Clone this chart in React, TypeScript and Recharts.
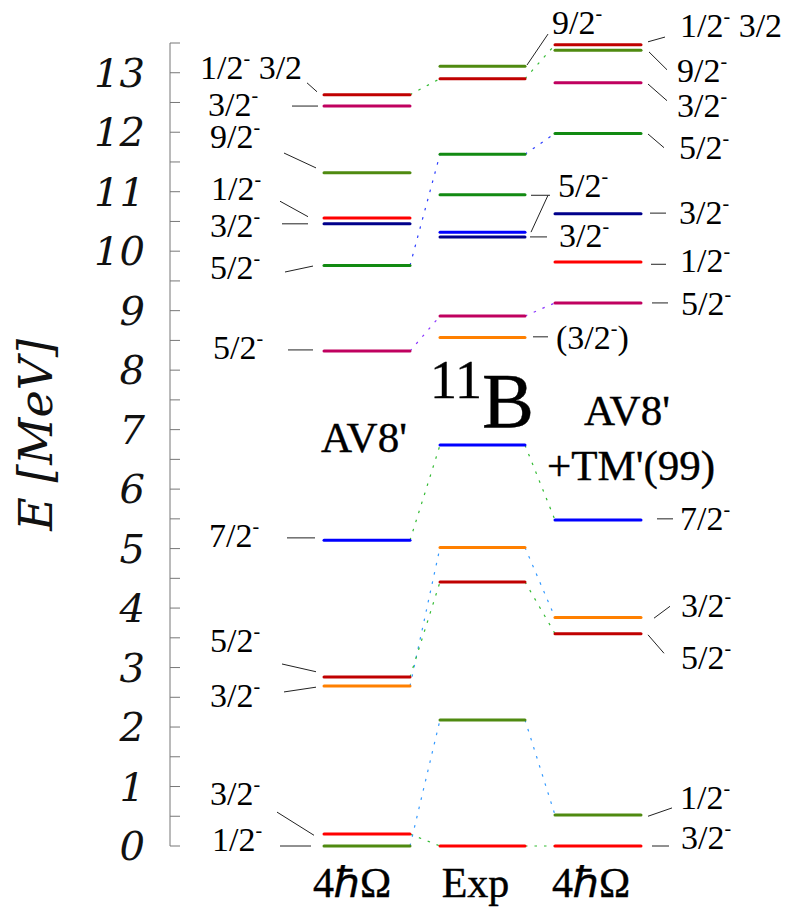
import React from 'react';
import { ComposedChart, XAxis, YAxis, ReferenceLine, ReferenceDot } from 'recharts';

// ---------------- data (energies in MeV) ----------------
const yTicks = [0, 1, 2, 3, 4, 5, 6, 7, 8, 9, 10, 11, 12, 13];
const minorTicks = [0, 0.5, 1, 1.5, 2, 2.5, 3, 3.5, 4, 4.5, 5, 5.5, 6, 6.5, 7, 7.5, 8, 8.5, 9, 9.5, 10, 10.5, 11, 11.5, 12, 12.5, 13, 13.5];

const av8Levels = [0.0, 0.2, 2.69, 2.84, 5.14, 8.32, 9.76, 10.46, 10.56, 11.32, 12.44, 12.63];
const av8Spins = ['1/2-', '3/2-', '3/2-', '5/2-', '7/2-', '5/2-', '5/2-', '3/2-', '1/2-', '9/2-', '3/2-', '1/2- 3/2'];

const expLevels = [0.0, 2.12, 4.44, 5.02, 6.74, 8.55, 8.91, 10.24, 10.32, 10.95, 11.63, 12.9, 13.11];
const expSpins = ['9/2-', '5/2-', '3/2-', '(3/2-)'];

const tmLevels = [0.0, 0.52, 3.57, 3.84, 5.48, 9.13, 9.82, 10.63, 11.98, 12.83, 13.38, 13.47];
const tmSpins = ['3/2-', '1/2-', '5/2-', '3/2-', '7/2-', '5/2-', '1/2-', '3/2-', '5/2-', '3/2-', '9/2-', '1/2- 3/2'];

// connections: [left level E, right level E]
const av8ToExp = [
  [12.63, 12.9], [9.76, 11.63], [8.32, 8.91], [5.14, 6.74],
  [2.69, 5.02], [2.84, 4.44], [0.0, 2.12], [0.2, 0.0],
];
const expToTm = [
  [12.9, 13.47], [11.63, 11.98], [8.91, 9.13], [6.74, 5.48],
  [5.02, 3.84], [4.44, 3.57], [2.12, 0.52], [0.0, 0.0],
];

const columnNames = ['4\u210F\u03A9', 'Exp', '4\u210F\u03A9'];
const nucleus = { mass: '11', symbol: 'B' };
const modelNames = ["AV8'", "AV8'", "+TM'(99)"];
const axisTitle = 'E [MeV]';

// ---------------- styles ----------------
const RED = '#ff0000', DRED = '#c00000', MAG = '#c0005f', OLIVE = '#4f8a10', GREEN = '#128a12',
  NAVY = '#00008b', BLUE = '#0000ff', ORANGE = '#ff8000';
const av8Colors = [OLIVE, RED, ORANGE, DRED, BLUE, MAG, GREEN, NAVY, RED, OLIVE, MAG, DRED];
const expColors = [RED, OLIVE, DRED, ORANGE, BLUE, ORANGE, MAG, NAVY, BLUE, GREEN, GREEN, DRED, OLIVE];
const tmColors = [RED, OLIVE, DRED, ORANGE, BLUE, MAG, RED, NAVY, GREEN, MAG, OLIVE, DRED];

const DG = '#33bb33', DB = '#2a3cff', DP = '#8a33ff', DLB = '#3399ff';
const av8ToExpColors = [DG, DB, DP, DG, DLB, DG, DLB, DG];
const expToTmColors = [DG, DB, DP, DG, DLB, DG, DLB, DG];

// ---------------- layout ----------------
const W = 791, H = 915;
const PLOT_LEFT = 170, PLOT_RIGHT = 790, PLOT_TOP = 43, PLOT_BOTTOM = 846;
const YAXIS_W = 100;
const COL_AV8: [number, number] = [324, 410];
const COL_EXP: [number, number] = [440, 525];
const COL_TM: [number, number] = [555, 641];

// label layout: text x (start), text centre E, leader [x1,e1,x2,e2]
const av8LabelPos = [
  { x: 212, e: 0.12, l: [280, 0.0, 311, 0.0] },
  { x: 210, e: 0.89, l: [277, 0.57, 314, 0.18] },
  { x: 210, e: 2.54, l: [284, 2.59, 316, 2.67] },
  { x: 210, e: 3.46, l: [282, 3.06, 316, 2.93] },
  { x: 209, e: 5.23, l: [287, 5.18, 315, 5.18] },
  { x: 213, e: 8.39, l: [288, 8.34, 313, 8.34] },
  { x: 210, e: 9.73, l: [285, 9.65, 313, 9.75] },
  { x: 210, e: 10.44, l: [282, 10.46, 308, 10.46] },
  { x: 211, e: 11.06, l: [280, 10.84, 308, 10.58] },
  { x: 210, e: 11.94, l: [284, 11.65, 316, 11.4] },
  { x: 208, e: 12.48, l: [292, 12.44, 318, 12.44] },
  { x: 200, e: 13.1, l: [307, 12.83, 317, 12.68] },
];
const expLabelPos = [
  { x: 552, e: 13.85, l: [527, 13.13, 548, 13.65] },
  { x: 558, e: 11.11, l: [531, 10.94, 550, 10.94], l2: [548, 10.94, 531, 10.32] },
  { x: 559, e: 10.27, l: [530, 10.24, 547, 10.24] },
  { x: 556, e: 8.56, l: [533, 8.56, 548, 8.56] },
];
const tmLabelPos = [
  { x: 681, e: 0.15, l: [652, 0.0, 669, 0.0] },
  { x: 680, e: 0.82, l: [648, 0.5, 672, 0.64] },
  { x: 681, e: 3.18, l: [648, 3.55, 664, 3.24] },
  { x: 681, e: 4.05, l: [654, 3.83, 670, 4.03] },
  { x: 680, e: 5.51, l: [657, 5.5, 673, 5.5] },
  { x: 681, e: 9.13, l: [652, 9.13, 668, 9.13] },
  { x: 680, e: 9.85, l: [651, 9.78, 666, 9.78] },
  { x: 679, e: 10.66, l: [650, 10.64, 666, 10.64] },
  { x: 679, e: 11.75, l: [648, 11.97, 664, 11.74] },
  { x: 677, e: 12.46, l: [648, 12.81, 667, 12.53] },
  { x: 677, e: 13.05, l: [649, 13.35, 667, 13.05] },
  { x: 680, e: 13.8, l: [648, 13.52, 665, 13.6] },
];

const SERIF = '"Liberation Serif", "Times New Roman", Times, serif';
const LBL = 34;

function SpinText({ cx, cy, s }: any) {
  const parts = String(s).split('-');
  const kids: any[] = [];
  parts.forEach((p, i) => {
    if (i > 0) {
      kids.push(<tspan key={'m' + i} fontSize={20} dy={-14}>-</tspan>);
      kids.push(<tspan key={'p' + i} fontSize={LBL} dy={14}>{p}</tspan>);
    } else {
      kids.push(<tspan key={'p' + i}>{p}</tspan>);
    }
  });
  return (
    <text x={cx} y={cy} dy="0.35em" fontFamily={SERIF} fontSize={LBL} fill="#000" textAnchor="start">
      {kids}
    </text>
  );
}

function CenterText({ cx, cy, s, size }: any) {
  return (
    <text x={cx} y={cy} dy="0.35em" fontFamily={SERIF} fontSize={size} fill="#000" textAnchor="middle"
      stroke="#000" strokeWidth={0.4}>
      {s}
    </text>
  );
}

function levelLines(levels: number[], colors: string[], col: [number, number], key: string) {
  return levels.map((e, i) => (
    <ReferenceLine key={key + i} segment={[{ x: col[0], y: e }, { x: col[1], y: e }]}
      stroke={colors[i]} strokeWidth={3} strokeLinecap="round" ifOverflow="visible" />
  ));
}

function connectors(pairs: number[][], colors: string[], a: [number, number], b: [number, number], key: string) {
  return pairs.map((p, i) => (
    <ReferenceLine key={key + i} segment={[{ x: a[1], y: p[0] }, { x: b[0], y: p[1] }]}
      stroke={colors[i]} strokeWidth={1.2} strokeDasharray="2.5 7" ifOverflow="visible" />
  ));
}

function spinLabels(spins: string[], pos: any[], key: string) {
  const out: any[] = [];
  spins.forEach((s, i) => {
    const p = pos[i];
    out.push(
      <ReferenceLine key={key + 'l' + i} segment={[{ x: p.l[0], y: p.l[1] }, { x: p.l[2], y: p.l[3] }]}
        stroke="#222" strokeWidth={1} ifOverflow="visible" />
    );
    if (p.l2) {
      out.push(
        <ReferenceLine key={key + 'm' + i} segment={[{ x: p.l2[0], y: p.l2[1] }, { x: p.l2[2], y: p.l2[3] }]}
          stroke="#222" strokeWidth={1} ifOverflow="visible" />
      );
    }
    out.push(
      <ReferenceDot key={key + 't' + i} x={p.x} y={p.e} r={0} ifOverflow="visible"
        shape={(props: any) => <SpinText cx={props.cx} cy={props.cy} s={s} />} />
    );
  });
  return out;
}

export default function App() {
  return (
    <div style={{ position: 'absolute', left: 0, top: 0, background: '#fff' }}>
      <ComposedChart width={W} height={H}
        margin={{ top: PLOT_TOP, right: W - PLOT_RIGHT, bottom: H - PLOT_BOTTOM, left: PLOT_LEFT - YAXIS_W }}>
        <XAxis type="number" dataKey="x" domain={[PLOT_LEFT, PLOT_RIGHT]} hide allowDataOverflow />
        <YAxis type="number" domain={[0, 13.5]} ticks={yTicks} width={YAXIS_W} allowDataOverflow
          tickLine={false} tickSize={0} tickMargin={25} axisLine={{ stroke: '#777', strokeWidth: 1 }}
          tick={{ fontFamily: '"DejaVu Serif", serif', fontStyle: 'italic', fontSize: 40, fill: '#111' }} />

        {minorTicks.map((t) => (
          <ReferenceLine key={'tk' + t} segment={[{ x: PLOT_LEFT, y: t }, { x: PLOT_LEFT + 10, y: t }]}
            stroke="#777" strokeWidth={1} ifOverflow="visible" />
        ))}

        {connectors(av8ToExp, av8ToExpColors, COL_AV8, COL_EXP, 'ca')}
        {connectors(expToTm, expToTmColors, COL_EXP, COL_TM, 'cb')}

        {levelLines(av8Levels, av8Colors, COL_AV8, 'la')}
        {levelLines(expLevels, expColors, COL_EXP, 'le')}
        {levelLines(tmLevels, tmColors, COL_TM, 'lt')}

        {spinLabels(av8Spins, av8LabelPos, 'sa')}
        {spinLabels(expSpins, expLabelPos, 'se')}
        {spinLabels(tmSpins, tmLabelPos, 'st')}

        {/* titles */}
        <ReferenceDot x={364} y={6.88} r={0} ifOverflow="visible"
          shape={(p: any) => <CenterText cx={p.cx} cy={p.cy} s={modelNames[0]} size={43} />} />
        <ReferenceDot x={627} y={7.33} r={0} ifOverflow="visible"
          shape={(p: any) => <CenterText cx={p.cx} cy={p.cy} s={modelNames[1]} size={43} />} />
        <ReferenceDot x={631} y={6.41} r={0} ifOverflow="visible"
          shape={(p: any) => <CenterText cx={p.cx} cy={p.cy} s={modelNames[2]} size={43} />} />
        <ReferenceDot x={430} y={7.04} r={0} ifOverflow="visible"
          shape={(p: any) => (
            <text x={p.cx} y={p.cy} fontFamily={SERIF} fill="#000" stroke="#000" strokeWidth={0.4}>
              <tspan fontSize={54} dy={-29}>{nucleus.mass}</tspan>
              <tspan fontSize={78} dy={29}>{nucleus.symbol}</tspan>
            </text>
          )} />

        {/* column names */}
        <ReferenceDot x={(COL_AV8[0] + COL_AV8[1]) / 2 - 15} y={-0.605} r={0} ifOverflow="visible"
          shape={(p: any) => <CenterText cx={p.cx} cy={p.cy} s={columnNames[0]} size={42} />} />
        <ReferenceDot x={(COL_EXP[0] + COL_EXP[1]) / 2 - 7} y={-0.605} r={0} ifOverflow="visible"
          shape={(p: any) => <CenterText cx={p.cx} cy={p.cy} s={columnNames[1]} size={42} />} />
        <ReferenceDot x={(COL_TM[0] + COL_TM[1]) / 2 - 7} y={-0.605} r={0} ifOverflow="visible"
          shape={(p: any) => <CenterText cx={p.cx} cy={p.cy} s={columnNames[2]} size={42} />} />

        {/* y-axis title */}
        <ReferenceDot x={36} y={6.91} r={0} ifOverflow="visible"
          shape={(p: any) => (
            <text x={p.cx} y={p.cy} dy="0.35em" transform={`rotate(-90 ${p.cx} ${p.cy})`}
              fontFamily='"DejaVu Serif", serif' fontStyle="italic" fontSize={46} fill="#111" textAnchor="middle">
              {axisTitle}
            </text>
          )} />
      </ComposedChart>
    </div>
  );
}
